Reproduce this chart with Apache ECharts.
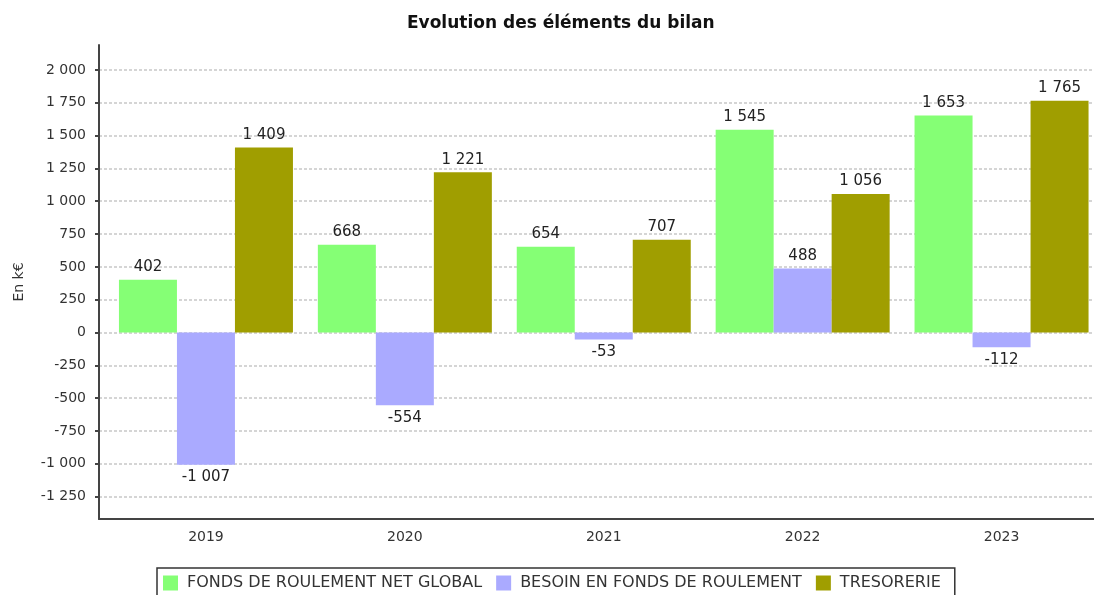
<!DOCTYPE html>
<html>
<head>
<meta charset="utf-8">
<script src="https://cdn.jsdelivr.net/npm/echarts@6/dist/echarts.min.js"></script>
<style>
html,body{margin:0;padding:0;background:#fff;}
#chart{width:1094px;height:595px;}
</style>
</head>
<body>
<div id="chart"></div>
<script>
const title = 'Evolution des éléments du bilan';
const yAxisName = 'En k€';
const categories = ['2019', '2020', '2021', '2022', '2023'];
const seriesNames = ['FONDS DE ROULEMENT NET GLOBAL', 'BESOIN EN FONDS DE ROULEMENT', 'TRESORERIE'];
const fondsRoulement = [402, 668, 654, 1545, 1653];
const besoinFonds = [-1007, -554, -53, 488, -112];
const tresorerie = [1409, 1221, 707, 1056, 1765];
const yTicks = [-1250, -1000, -750, -500, -250, 0, 250, 500, 750, 1000, 1250, 1500, 1750, 2000];
const yMin = -1420;
const yMax = 2190;
const colors = ['#85ff75', '#aaaaff', '#a09e00'];

function fmt(v) {
  const s = String(Math.abs(Math.round(v)));
  const parts = s.replace(/\B(?=(\d{3})+(?!\d))/g, ' ');
  return (v < 0 ? '-' : '') + parts;
}

const FONT = 'DejaVu Sans';
const chart = echarts.init(document.getElementById('chart'), null, {renderer: 'canvas'});

function makeSeries(name, values, color) {
  return {
    name: name,
    type: 'bar',
    xAxisIndex: 1,
    yAxisIndex: 1,
    barWidth: 58,
    barGap: '0%',
    itemStyle: {color: color},
    label: {
      show: true,
      fontFamily: FONT,
      fontSize: 15,
      color: '#222',
      distance: 5,
      formatter: p => fmt(p.value)
    },
    data: values.map(v => ({value: v, label: {position: v < 0 ? 'bottom' : 'top'}}))
  };
}

const option = {
  animation: false,
  backgroundColor: '#fff',
  title: {
    text: title,
    left: 402,
    top: 10,
    textStyle: {fontFamily: FONT, fontWeight: 'bold', fontSize: 17, color: '#111'}
  },
  legend: {
    left: 157,
    top: 568,
    padding: [7, 14, 7, 6],
    borderColor: '#333',
    borderWidth: 1.5,
    itemGap: 14,
    itemWidth: 15,
    itemHeight: 15,
    icon: 'rect',
    textStyle: {fontFamily: FONT, fontSize: 16, color: '#333', padding: [0, 0, 0, 4]},
    data: seriesNames
  },
  grid: [
    {left: 99, right: 0, top: 45, bottom: 76, outerBoundsMode: 'none', containLabel: false},
    {left: 106.5, right: -7, top: 45, bottom: 76, outerBoundsMode: 'none', containLabel: false}
  ],
  xAxis: [
    {
      type: 'category', gridIndex: 0, data: [''],
      axisLine: {show: true, onZero: false, lineStyle: {color: '#444', width: 2}},
      axisTick: {show: false}, axisLabel: {show: false}, splitLine: {show: false}
    },
    {
      type: 'category', gridIndex: 1, data: categories,
      axisLine: {show: false, onZero: false}, axisTick: {show: false},
      axisLabel: {fontFamily: FONT, fontSize: 14, color: '#333', margin: 11},
      splitLine: {show: false}
    }
  ],
  yAxis: [
    {
      type: 'value', gridIndex: 0, min: yMin, max: yMax,
      name: yAxisName, nameLocation: 'middle', nameGap: 73, nameRotate: 90,
      nameTextStyle: {fontFamily: FONT, fontSize: 14, color: '#333'},
      axisLine: {show: true, onZero: false, lineStyle: {color: '#444', width: 2}},
      axisTick: {show: true, length: 4, customValues: yTicks, lineStyle: {color: '#444', width: 2}},
      axisLabel: {customValues: yTicks, fontFamily: FONT, fontSize: 14, color: '#333', margin: 13, formatter: v => fmt(v)},
      splitLine: {show: true, lineStyle: {color: '#c8c8c8', width: 1.5, type: [3, 2]}}
    },
    {
      type: 'value', gridIndex: 1, min: yMin, max: yMax,
      axisLine: {show: false}, axisTick: {show: false}, axisLabel: {show: false}, splitLine: {show: false}
    }
  ],
  series: [
    makeSeries(seriesNames[0], fondsRoulement, colors[0]),
    makeSeries(seriesNames[1], besoinFonds, colors[1]),
    makeSeries(seriesNames[2], tresorerie, colors[2])
  ]
};
chart.setOption(option);
</script>
</body>
</html>
